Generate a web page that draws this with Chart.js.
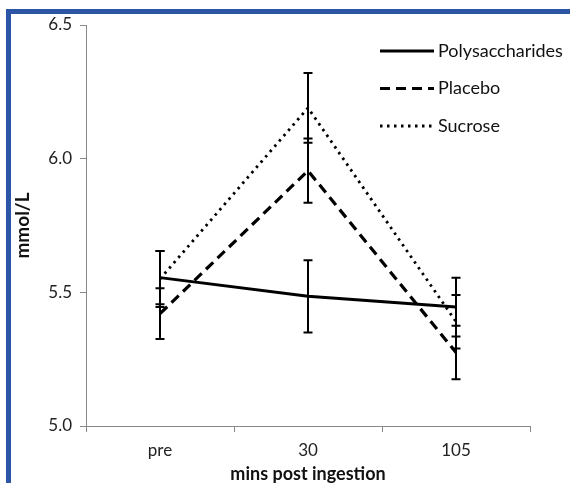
<!DOCTYPE html>
<html>
<head>
<meta charset="utf-8">
<script src="https://cdn.jsdelivr.net/npm/chart.js@4.4.1/dist/chart.umd.min.js"></script>
<style>
  html, body { margin: 0; padding: 0; background: #fff; }
  #wrap { position: relative; width: 570px; height: 483px; overflow: hidden; }
  #frame { position: absolute; left: 6px; top: 9px; width: 600px; height: 500px;
           border-left: 5px solid #2c55a6; border-top: 5px solid #2c55a6; box-sizing: border-box; }
  canvas { position: absolute; left: 0; top: 0; }
</style>
</head>
<body>
<div id="wrap">
  <div id="frame"></div>
  <canvas id="myLineChart" width="570" height="483"></canvas>
</div>
<script>
const categories = ['pre', '30', '105'];
const polysaccharides = [5.555, 5.485, 5.445];
const placebo = [5.42, 5.955, 5.275];
const sucrose = [5.55, 6.19, 5.39];
const polysaccharidesErr = [0.1, 0.135, 0.11];
const placeboErr = [0.095, 0.12, 0.1];
const sucroseErr = [0.105, 0.13, 0.1];
const yTicks = [5.0, 5.5, 6.0, 6.5];

const FONT = 'Lato, "Open Sans", sans-serif';

// error bars drawn from the dataset errors
const errorBars = {
  id: 'errorBars',
  afterDatasetsDraw(chart) {
    const ctx = chart.ctx;
    const xs = chart.scales.x, ys = chart.scales.y;
    ctx.save();
    ctx.strokeStyle = '#000';
    chart.data.datasets.forEach(ds => {
      ds.data.forEach((v, i) => {
        const x = xs.getPixelForValue(i);
        const top = ys.getPixelForValue(v + ds.errors[i]);
        const bot = ys.getPixelForValue(v - ds.errors[i]);
        ctx.lineWidth = 2;
        ctx.beginPath();
        ctx.moveTo(x, top); ctx.lineTo(x, bot);
        ctx.stroke();
        ctx.lineWidth = 2;
        ctx.beginPath();
        ctx.moveTo(x - 4.5, top); ctx.lineTo(x + 4.5, top);
        ctx.moveTo(x - 4.5, bot); ctx.lineTo(x + 4.5, bot);
        ctx.stroke();
      });
    });
    ctx.restore();
  }
};

// legend inside the plot, top right
const lineLegend = {
  id: 'lineLegend',
  afterDraw(chart) {
    const ctx = chart.ctx;
    const area = chart.chartArea;
    const x0 = area.right - 150;
    ctx.save();
    ctx.font = '18px ' + FONT;
    ctx.fillStyle = '#111';
    ctx.textBaseline = 'middle';
    chart.data.datasets.forEach((ds, i) => {
      const y = area.top + 26 + i * 37.5;
      ctx.strokeStyle = '#000';
      ctx.lineWidth = ds.borderWidth;
      ctx.setLineDash(ds.borderDash || []);
      ctx.beginPath();
      ctx.moveTo(x0, y); ctx.lineTo(x0 + 54, y);
      ctx.stroke();
      ctx.setLineDash([]);
      ctx.fillText(ds.label, x0 + 58, y);
    });
    ctx.restore();
  }
};

function createChart() {
  const ctx = document.getElementById('myLineChart').getContext('2d');
  new Chart(ctx, {
    type: 'line',
    data: {
      labels: categories,
      datasets: [
        { label: 'Polysaccharides', data: polysaccharides, errors: polysaccharidesErr,
          borderColor: '#000', borderWidth: 3, pointRadius: 0, tension: 0 },
        { label: 'Placebo', data: placebo, errors: placeboErr,
          borderColor: '#000', borderWidth: 3.2, borderDash: [10, 6], pointRadius: 0, tension: 0 },
        { label: 'Sucrose', data: sucrose, errors: sucroseErr,
          borderColor: '#000', borderWidth: 2.8, borderDash: [2.5, 4.5], pointRadius: 0, tension: 0 }
      ]
    },
    options: {
      responsive: false,
      animation: false,
      layout: { padding: { top: 25, right: 40, left: 0, bottom: 0 } },
      scales: {
        x: {
          offset: true,
          grid: { offset: true, drawOnChartArea: false, drawTicks: true, tickLength: 6, color: '#888' },
          border: { display: true, color: '#888', width: 1 },
          ticks: { color: '#222', font: { family: FONT, size: 17 }, padding: 8 },
          title: { display: true, text: 'mins post ingestion', color: '#111',
                   font: { family: FONT, size: 18, weight: 'bold', lineHeight: 1 }, padding: { top: 0, bottom: 0 } },
          afterFit(scale) { scale.height = 57; }
        },
        y: {
          min: 5.0, max: 6.5,
          afterBuildTicks(scale) { scale.ticks = yTicks.map(v => ({ value: v })); },
          grid: { drawOnChartArea: false, drawTicks: true, tickLength: 6, color: '#888' },
          border: { display: true, color: '#888', width: 1 },
          ticks: { color: '#222', font: { family: FONT, size: 17 }, padding: 8,
                   callback: v => Number(v).toFixed(1) },
          title: { display: true, text: 'mmol/L', color: '#111',
                   font: { family: FONT, size: 19, weight: 'bold' }, padding: { top: 11, bottom: 0 } },
          afterFit(scale) { scale.width = 86; }
        }
      },
      plugins: {
        legend: { display: false },
        tooltip: { enabled: false }
      }
    },
    plugins: [errorBars, lineLegend]
  });
}

window.onload = createChart;
</script>
</body>
</html>
